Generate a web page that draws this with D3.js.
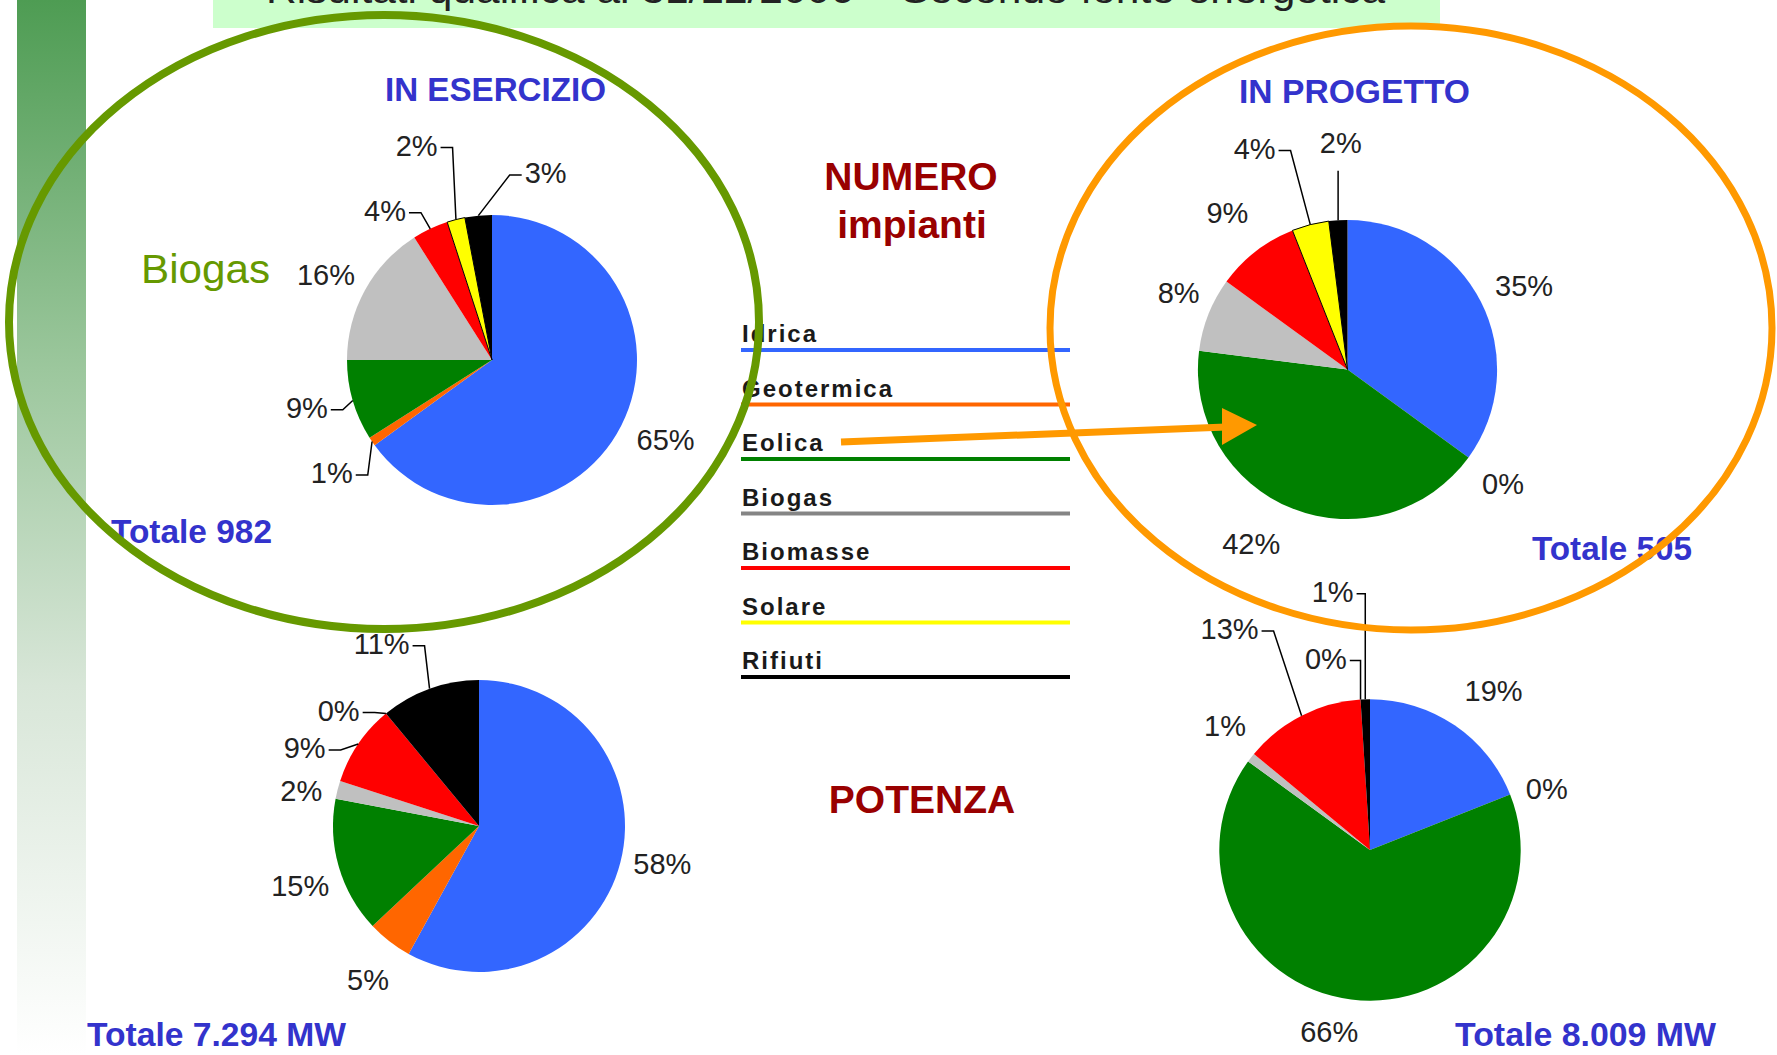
<!DOCTYPE html>
<html>
<head>
<meta charset="utf-8">
<script src="https://cdn.jsdelivr.net/npm/d3@7"></script>
<style>
  html, body { margin: 0; padding: 0; background: #fff; }
  svg { display: block; }
</style>
</head>
<body>
<div id="vis"></div>
<script>
const categories = ["Idrica", "Geotermica", "Eolica", "Biogas", "Biomasse", "Solare", "Rifiuti"];
const numeroEsercizio = [65, 1, 9, 16, 4, 2, 3];
const potenzaEsercizio = [58, 5, 15, 2, 9, 0, 11];
const numeroProgetto = [35, 0, 42, 8, 9, 4, 2];
const potenzaProgetto = [19, 0, 66, 1, 13, 0, 1];
const totals = ["Totale 982", "Totale 7.294 MW", "Totale 505", "Totale 8.009 MW"];
const titleText = "Risultati qualifica al 31/12/2006 \u2013 Secondo fonte energetica";

(function(){
    const width = 1777, height = 1055;
    const font = "'Liberation Sans', Arial, Helvetica, sans-serif";

    const svg = d3.select("#vis").append("svg")
        .attr("width", width)
        .attr("height", height);

    const color = d3.scaleOrdinal()
        .domain(categories)
        .range(["#3366ff", "#ff6600", "#008000", "#c0c0c0", "#ff0000", "#ffff00", "#000000"]);
    // legend lines use a darker grey for Biogas
    const lineColor = d3.scaleOrdinal()
        .domain(categories)
        .range(["#3366ff", "#ff6600", "#008000", "#858585", "#ff0000", "#ffff00", "#000000"]);

    // 1. Slide background: left gradient bar + title strip
    const grad = svg.append("defs").append("linearGradient")
        .attr("id", "bar").attr("x1", 0).attr("y1", 0).attr("x2", 0).attr("y2", 1);
    [[0, "#4e9c53"], [0.35, "#9cc79d"], [0.65, "#d8e6d8"], [1, "#ffffff"]].forEach(s =>
        grad.append("stop").attr("offset", s[0]).attr("stop-color", s[1]));

    svg.append("rect").attr("x", 17).attr("y", 0).attr("width", 69).attr("height", height)
        .attr("fill", "url(#bar)");
    svg.append("rect").attr("x", 213).attr("y", 0).attr("width", 1227).attr("height", 28)
        .attr("fill", "#ccffcc");
    // title sits mostly above the visible area, as on the slide
    svg.append("text").attr("x", 266).attr("y", 3)
        .attr("font-family", font).attr("font-size", 38).attr("fill", "#222")
        .attr("textLength", 1119).attr("lengthAdjust", "spacingAndGlyphs")
        .text(titleText);

    // 2. Pies (layout: centre, radius, label spots in radius units, leader flag)
    const pies = [
        { values: numeroEsercizio, cx: 492, cy: 360, r: 145,
          spots: [[1.197, 0.549, 0], [-1.105, 0.78, 1], [-1.277, 0.33, 1], [-1.145, -0.586, 0],
                  [-0.738, -1.03, 1], [-0.52, -1.479, 1], [0.37, -1.29, 1]] },
        { values: potenzaEsercizio, cx: 479, cy: 826, r: 146,
          spots: [[1.256, 0.256, 0], [-0.76, 1.054, 0], [-1.225, 0.411, 0], [-1.217, -0.24, 0],
                  [-1.194, -0.535, 1], [-0.961, -0.791, 1], [-0.667, -1.248, 1]] },
        { values: numeroProgetto, cx: 1347.5, cy: 369.5, r: 149.6,
          spots: [[1.18, -0.56, 0], [1.04, 0.765, 0], [-0.644, 1.167, 0], [-1.129, -0.515, 0],
                  [-0.803, -1.045, 0], [-0.621, -1.477, 1], [-0.045, -1.515, 1]] },
        { values: potenzaProgetto, cx: 1370, cy: 850, r: 150.7,
          spots: [[0.82, -1.053, 0], [1.173, -0.406, 0], [-0.271, 1.21, 0], [-0.962, -0.827, 0],
                  [-0.932, -1.466, 1], [-0.293, -1.27, 1], [-0.248, -1.714, 1]] }
    ];

    const pie = d3.pie().value(d => d.value).sort(null);

    pies.forEach(p => {
        const data = pie(categories.map((c, i) => ({ cat: c, value: p.values[i] })));
        const arc = d3.arc().innerRadius(0).outerRadius(p.r);
        const g = svg.append("g").attr("transform", `translate(${p.cx},${p.cy})`);

        g.selectAll("path.slice")
            .data(data)
            .join("path")
            .attr("class", "slice")
            .attr("d", arc)
            .attr("fill", d => color(d.data.cat))
            .attr("stroke", d => d.data.cat === "Solare" && d.value > 0 ? "#000" : "none")
            .attr("stroke-width", 1);

        data.forEach((d, i) => {
            const s = p.spots[i];
            const lx = s[0] * p.r, ly = s[1] * p.r;
            const t = g.append("text")
                .attr("x", lx).attr("y", ly).attr("dy", "0.35em")
                .attr("text-anchor", "middle")
                .attr("font-family", font).attr("font-size", 29).attr("fill", "#222")
                .text(d.data.value + "%");
            if (!s[2]) return;

            // leader line: short horizontal stub then to the slice edge
            const mid = (d.startAngle + d.endAngle) / 2;
            const px = Math.sin(mid) * p.r, py = -Math.cos(mid) * p.r;
            const half = t.node().getComputedTextLength() / 2 + 3;
            let path;
            if (Math.abs(px - lx) < half) {
                path = `M${px},${ly + 28}L${px},${py}`;
            } else {
                const side = px > lx ? 1 : -1;
                const x0 = lx + side * half;
                const x1 = x0 + side * Math.min(12, Math.abs(px - x0));
                path = `M${x0},${ly + 2}L${x1},${ly + 2}L${px},${py}`;
            }
            g.append("path").attr("d", path)
                .attr("fill", "none").attr("stroke", "#000").attr("stroke-width", 1.5);
        });
    });

    // 3. Central legend
    const y = d3.scalePoint().domain(categories).range([350, 677]);
    const legend = svg.append("g");
    legend.selectAll("line")
        .data(categories)
        .join("line")
        .attr("x1", 741).attr("x2", 1070)
        .attr("y1", d => y(d)).attr("y2", d => y(d))
        .attr("stroke", d => lineColor(d)).attr("stroke-width", 4);
    legend.selectAll("text")
        .data(categories)
        .join("text")
        .attr("x", 742).attr("y", d => y(d) - 8)
        .attr("font-family", font).attr("font-size", 24).attr("font-weight", "bold")
        .attr("letter-spacing", 2).attr("fill", "#1a1a1a")
        .text(d => d);

    // 4. Headings and totals
    const label = (txt, x, yy, size, fill, opts = {}) => {
        const t = svg.append("text").attr("x", x).attr("y", yy)
            .attr("font-family", font).attr("font-size", size).attr("fill", fill)
            .attr("font-weight", opts.weight || "bold")
            .attr("text-anchor", opts.anchor || "start")
            .text(txt);
        if (opts.len) t.attr("textLength", opts.len).attr("lengthAdjust", "spacingAndGlyphs");
        return t;
    };
    label("IN ESERCIZIO", 385, 101, 33, "#3333cc", { len: 221 });
    label("IN PROGETTO", 1239, 103, 33, "#3333cc", { len: 231 });
    label("NUMERO", 911, 190, 39, "#990000", { anchor: "middle" });
    label("impianti", 912, 238, 39, "#990000", { anchor: "middle" });
    label("POTENZA", 922, 813, 39, "#990000", { anchor: "middle" });
    label("Biogas", 141, 283, 40, "#669900", { weight: "normal", len: 129 });
    label(totals[0], 111, 543, 33, "#3333cc", { len: 161 });
    label(totals[1], 87, 1046, 33, "#3333cc", { len: 259 });
    label(totals[2], 1532, 560, 33, "#3333cc", { len: 160 });
    label(totals[3], 1455, 1046, 33, "#3333cc", { len: 261 });

    // 5. Highlight ellipses and arrow
    svg.append("ellipse").attr("cx", 384).attr("cy", 322).attr("rx", 375).attr("ry", 307)
        .attr("fill", "none").attr("stroke", "#669900").attr("stroke-width", 8);
    svg.append("ellipse").attr("cx", 1411).attr("cy", 328).attr("rx", 361).attr("ry", 302)
        .attr("fill", "none").attr("stroke", "#ff9900").attr("stroke-width", 7);

    svg.append("line").attr("x1", 841).attr("y1", 442).attr("x2", 1226).attr("y2", 427)
        .attr("stroke", "#ff9900").attr("stroke-width", 7);
    svg.append("path").attr("d", "M1257,425L1222,408L1222,445Z").attr("fill", "#ff9900");
})();
</script>
</body>
</html>
